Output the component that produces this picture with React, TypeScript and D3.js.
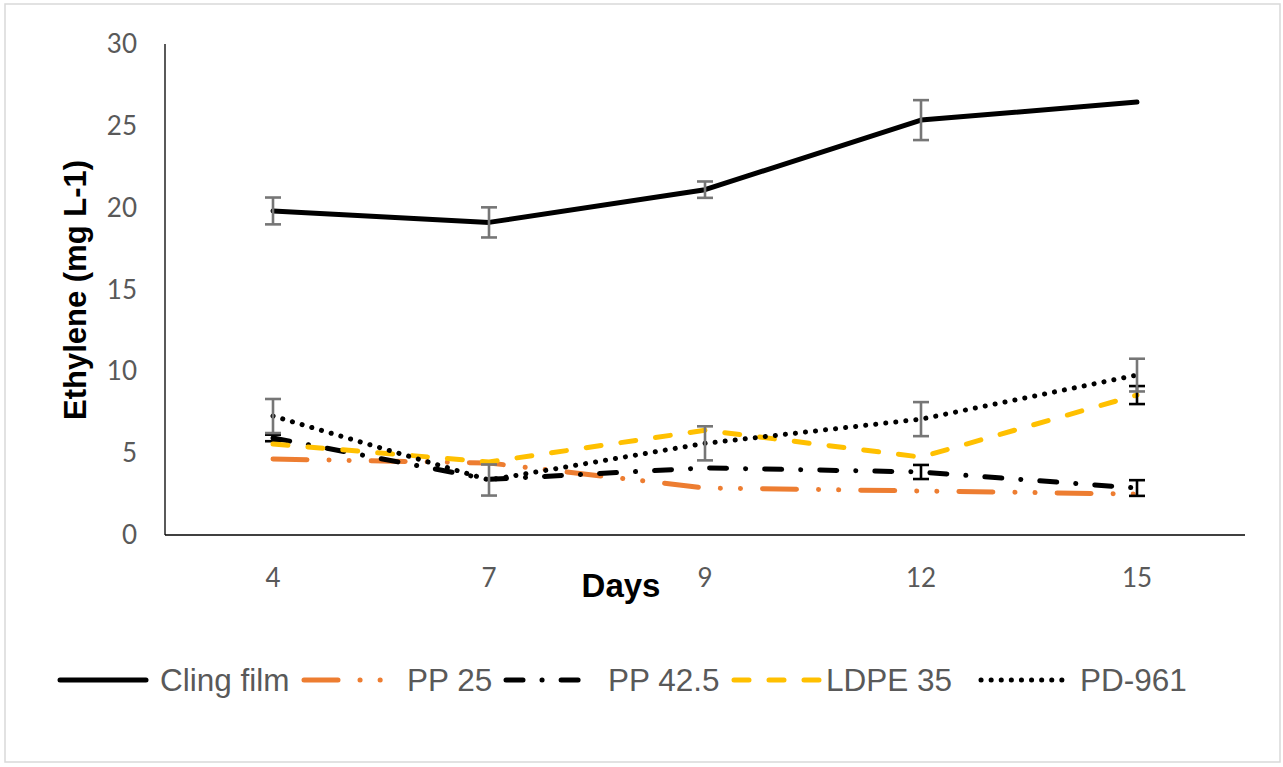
import React, { useEffect, useRef } from 'react';
import * as d3 from 'd3';

// chart data
const days = ['4', '7', '9', '12', '15'];
const yTicks = [0, 5, 10, 15, 20, 25, 30];

const clingFilm = [19.8, 19.1, 21.1, 25.35, 26.45];
const clingFilmErr = [0.82, 0.92, 0.5, 1.22, 0];
const pp25 = [4.64, 4.4, 2.87, 2.69, 2.5];
const pp25Err = [0, 0, 0, 0, 0];
const pp425 = [5.93, 3.4, 4.1, 3.85, 2.87];
const pp425Err = [0.2, 0, 0, 0.43, 0.48];
const ldpe35 = [5.56, 4.46, 6.4, 4.76, 8.55];
const ldpe35Err = [0, 0, 0, 0, 0.55];
const pd961 = [7.27, 3.36, 5.6, 7.08, 9.77];
const pd961Err = [1.04, 0.95, 1.04, 1.04, 1.0];

const seriesNames = ['Cling film', 'PP 25', 'PP 42.5', 'LDPE 35', 'PD-961'];

const App = () => {
  const svgRef = useRef(null);
  const width = 1283;
  const height = 767;

  useEffect(() => {
    const svg = d3.select(svgRef.current);
    svg.selectAll('*').remove();

    svg.append('rect')
      .attr('x', 5).attr('y', 4)
      .attr('width', 1275).attr('height', 758)
      .attr('fill', '#fff')
      .attr('stroke', '#d9d9d9')
      .attr('stroke-width', 1.5);

    const x = d3.scaleBand().domain(days).range([165, 1245]);
    const cx = (d) => x(d) + x.bandwidth() / 2;
    const y = d3.scaleLinear().domain([0, 30]).range([535, 44]);

    // axes
    svg.append('line')
      .attr('x1', 165).attr('x2', 165)
      .attr('y1', y(30)).attr('y2', y(0))
      .attr('stroke', '#000').attr('stroke-width', 1.3);
    svg.append('line')
      .attr('x1', 165).attr('x2', 1245)
      .attr('y1', y(0)).attr('y2', y(0))
      .attr('stroke', '#000').attr('stroke-width', 1.3);

    svg.append('g').selectAll('text')
      .data(yTicks)
      .enter().append('text')
      .attr('x', 137)
      .attr('y', d => y(d) + 9)
      .attr('text-anchor', 'end')
      .attr('font-family', 'Lato, "Open Sans", sans-serif')
      .attr('font-size', 26)
      .attr('fill', '#595959')
      .text(d => d);

    svg.append('g').selectAll('text')
      .data(days)
      .enter().append('text')
      .attr('x', d => cx(d))
      .attr('y', 587)
      .attr('text-anchor', 'middle')
      .attr('font-family', 'Lato, "Open Sans", sans-serif')
      .attr('font-size', 26)
      .attr('fill', '#595959')
      .text(d => d);

    svg.append('text')
      .attr('x', 621).attr('y', 597)
      .attr('text-anchor', 'middle')
      .attr('font-family', '"Liberation Sans", Arial, sans-serif')
      .attr('font-weight', 'bold')
      .attr('font-size', 33)
      .attr('fill', '#000')
      .text('Days');

    svg.append('text')
      .attr('transform', 'translate(86,290) rotate(-90)')
      .attr('text-anchor', 'middle')
      .attr('font-family', '"Liberation Sans", Arial, sans-serif')
      .attr('font-weight', 'bold')
      .attr('font-size', 31)
      .attr('fill', '#000')
      .text('Ethylene (mg L-1)');

    const series = [
      { values: clingFilm, err: clingFilmErr, color: '#000', dash: null, errColor: '#767676' },
      { values: pp25, err: pp25Err, color: '#ED7D31', dash: '34 22 0.1 20 0.1 22', errColor: '#767676' },
      { values: pp425, err: pp425Err, color: '#000', dash: '17 19 0.1 19', errColor: '#000' },
      { values: ldpe35, err: ldpe35Err, color: '#FFC000', dash: '15 20', errColor: '#000' },
      { values: pd961, err: pd961Err, color: '#000', dash: '0.1 10', errColor: '#767676' },
    ];

    const line = d3.line().x(d => d[0]).y(d => d[1]);

    series.forEach(s => {
      const pts = s.values.map((v, i) => [cx(days[i]), y(v)]);
      svg.append('path')
        .attr('d', line(pts))
        .attr('fill', 'none')
        .attr('stroke', s.color)
        .attr('stroke-width', 5)
        .attr('stroke-linecap', 'round')
        .attr('stroke-linejoin', 'round')
        .attr('stroke-dasharray', s.dash);

      const eb = svg.append('g')
        .attr('stroke', s.errColor)
        .attr('stroke-width', 2.6);
      s.values.forEach((v, i) => {
        const e = s.err[i];
        if (!e) return;
        const xc = cx(days[i]);
        eb.append('line').attr('x1', xc).attr('x2', xc).attr('y1', y(v + e)).attr('y2', y(v - e));
        eb.append('line').attr('x1', xc - 8).attr('x2', xc + 8).attr('y1', y(v + e)).attr('y2', y(v + e));
        eb.append('line').attr('x1', xc - 8).attr('x2', xc + 8).attr('y1', y(v - e)).attr('y2', y(v - e));
      });
    });

    // legend
    const legendY = 680;
    const sampleX = [60, 304, 506, 734, 981];
    const textX = [160, 407, 608, 826, 1080];
    const lg = svg.append('g');
    series.forEach((s, i) => {
      lg.append('line')
        .attr('x1', sampleX[i]).attr('x2', sampleX[i] + 86)
        .attr('y1', legendY).attr('y2', legendY)
        .attr('stroke', s.color)
        .attr('stroke-width', 5)
        .attr('stroke-linecap', 'round')
        .attr('stroke-dasharray', s.dash);
      lg.append('text')
        .attr('x', textX[i])
        .attr('y', legendY + 11)
        .attr('font-family', '"Liberation Sans", Arial, sans-serif')
        .attr('font-size', 31.5)
        .attr('fill', '#595959')
        .text(seriesNames[i]);
    });
  }, []);

  return (
    <svg ref={svgRef} width={width} height={height}
      style={{ position: 'absolute', left: 0, top: 0 }}></svg>
  );
};

export default App;
